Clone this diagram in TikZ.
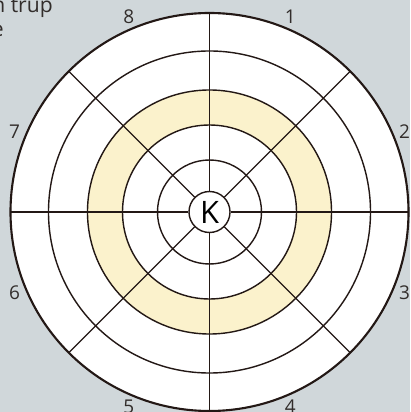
\documentclass[tikz,border=0pt]{standalone}
\usepackage{fontspec}
\setmainfont{Open Sans}
\usetikzlibrary{positioning}

\definecolor{bgblue}{RGB}{208,215,218}
\definecolor{ringyellow}{RGB}{251,242,204}
\definecolor{inkbrown}{RGB}{35,24,21}
\definecolor{textgray}{RGB}{50,45,43}

\begin{document}
\begin{tikzpicture}[x=0.025cm, y=0.025cm]
    % Define styles
    \tikzstyle{ring} = [draw=inkbrown, line width=1pt]
    \tikzstyle{rim} = [draw=inkbrown, line width=1.5pt, fill=white]
    \tikzstyle{spoke} = [draw=inkbrown, line width=1pt]
    \tikzstyle{sector} = [text=textgray, inner sep=0pt, font=\fontsize{13.5}{15}\selectfont]
    \tikzstyle{caption} = [text=textgray, inner sep=0pt, font=\fontsize{15}{18}\selectfont]
    \tikzstyle{hub} = [circle, draw=inkbrown, line width=1pt, fill=white, minimum size=1.025cm, inner sep=0pt, font=\fontsize{22}{24}\selectfont]

    % Background
    \useasboundingbox (-209.5,-200) rectangle (200.5,212);
    \fill[bgblue] (-209.5,-200) rectangle (200.5,212);

    % Rings
    \draw[rim] (0,0) circle (199);
    \fill[ringyellow, even odd rule] (0,0) circle (122) (0,0) circle (87);
    \foreach \r in {161,122,87,52}
        \draw[ring] (0,0) circle (\r);

    % Nodes
    \node [hub] (hub) at (0,0) {K};
    \foreach \a in {0,45,...,315}
        \coordinate (rim\a) at (\a:199);
    \foreach \i in {1,...,8}
        \node [sector] (sec\i) at ({67.5-45*(\i-1)}:211) {\i};

    % Spokes
    \foreach \a in {0,45,...,315}
        \draw [spoke] (hub.\a) -- (rim\a);

    % Cut-off caption
    \node [caption, anchor=base east] (capa) at (-156.5,199) {n trup};
    \node [caption, anchor=base east] (capb) at (-205.5,175) {e};
\end{tikzpicture}
\end{document}
